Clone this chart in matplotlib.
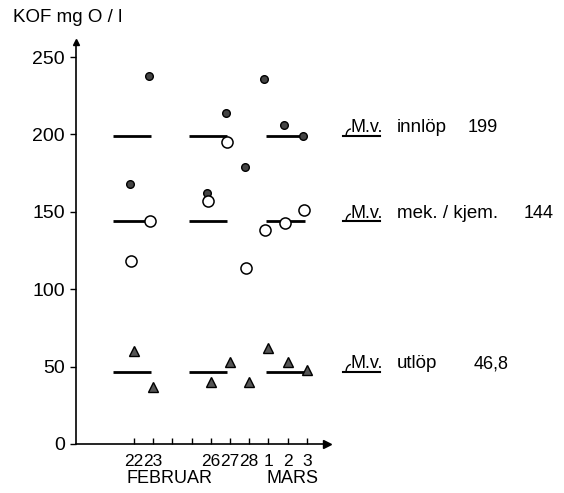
import numpy as np
import matplotlib.pyplot as plt
from matplotlib.patches import Arc
from matplotlib.transforms import offset_copy

# KOF sampling days, index 0 = 22 februar
day_labels = ['22', '23', '24', '25', '26', '27', '28', '1', '2', '3']
tick_text = ['22', '23', '', '', '26', '27', '28', '1', '2', '3']
sample_days = ['22', '23', '26', '27', '28', '1', '2', '3']

innlop = [168, 238, 162, 214, 179, 236, 206, 199]
mek_kjem = [118, 144, 157, 195, 114, 138, 143, 151]
utlop = [60, 37, 40, 53, 40, 62, 53, 48]

mean_names = ['innlöp', 'mek. / kjem.', 'utlöp']
mean_values = [199, 144, 46.8]
mean_text = ['199', '144', '46,8']
periods = [(-1.1, 0.9), (2.85, 4.85), (6.9, 8.9)]

plt.rcParams['font.family'] = ['Liberation Sans', 'DejaVu Sans']

fig = plt.figure(figsize=(5.64, 4.93), dpi=100)
ax = fig.add_axes([76 / 564, 1 - 444 / 493, (560 - 76) / 564, (444 - 42) / 493])

x = np.array([day_labels.index(d) for d in sample_days])
ax.set_xlim(-3.02, 22.19)
ax.set_ylim(0, 259.7)

for s in ['top', 'right']:
    ax.spines[s].set_visible(False)
x_end = 10.05
ax.spines['bottom'].set_bounds(-3.02, x_end)
for s in ['left', 'bottom']:
    ax.spines[s].set_linewidth(1.2)

# axis arrows
ax.plot([x_end], [0], marker='>', color='k', ms=6, clip_on=False)
ax.plot([-3.02], [259.7], marker='^', color='k', ms=5, clip_on=False)

ax.set_yticks([0, 50, 100, 150, 200, 250])
ax.tick_params(axis='y', direction='out', length=4, width=1, pad=4, labelsize=14)
ax.set_xticks(range(len(day_labels)))
ax.set_xticklabels(tick_text, fontsize=12.5)
ax.tick_params(axis='x', direction='in', length=4, width=1, pad=7)

# month names
ax.annotate('FEBRUAR', (1.875, 0), xycoords=('data', 'axes fraction'), xytext=(0, -28),
            textcoords='offset points', ha='center', va='baseline', fontsize=13)
ax.annotate('MARS', (6.9, 0), xycoords=('data', 'axes fraction'), xytext=(0, -28),
            textcoords='offset points', ha='left', va='baseline', fontsize=13)

fig.text(13 / 564, 1 - 22 / 493, 'KOF mg O / l', fontsize=13.5, va='baseline')

# mean lines per period
for a, b in periods:
    for v in mean_values:
        ax.plot([a, b], [v, v], color='k', lw=2, zorder=2, solid_capstyle='butt')

tf = offset_copy(ax.transData, fig=fig, x=-4, y=0, units='dots')
to = offset_copy(ax.transData, fig=fig, x=-3, y=0, units='dots')
ax.plot(x, innlop, 'o', ms=5.5, mfc='#444444', mec='k', mew=1, transform=tf, zorder=4)
ax.plot(x, mek_kjem, 'o', ms=8, mfc='white', mec='k', mew=1.1, transform=to, zorder=4)
ax.plot(x, utlop, '^', ms=6.5, mfc='#555555', mec='k', mew=1, zorder=4)

# mean value labels at right
value_x = [17.4, 20.3, 17.7]
for v, name, txt, vx in zip(mean_values, mean_names, mean_text, value_x):
    ax.plot([10.9, 12.8], [v, v], color='k', lw=1.5, clip_on=False)
    hook = Arc((11.3, v), 0.5, 9, theta1=90, theta2=180, color='k', lw=1, clip_on=False)
    ax.add_patch(hook)
    ax.annotate('M.v.', (11.3, v), xytext=(0, 2.5), textcoords='offset points',
                fontsize=13, va='baseline', annotation_clip=False)
    ax.annotate(name, (13.7, v), xytext=(0, 2.5), textcoords='offset points',
                fontsize=13.5, va='baseline', annotation_clip=False)
    ax.annotate(txt, (vx, v), xytext=(0, 2.5), textcoords='offset points',
                fontsize=13, va='baseline', annotation_clip=False)

fig.savefig('out.png', dpi=100)
